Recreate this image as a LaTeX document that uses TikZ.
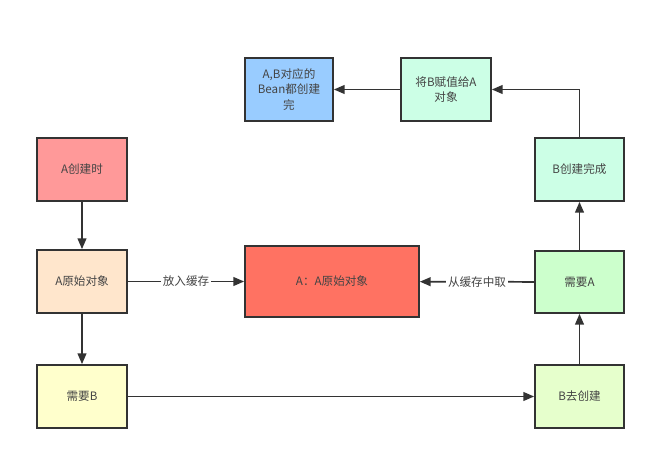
\documentclass[tikz,border=0pt]{standalone}
\usepackage{fontspec}
\setmainfont{Noto Sans CJK SC}
\usetikzlibrary{arrows.meta}
\definecolor{cblue}{RGB}{153,204,255}
\definecolor{cmint}{RGB}{204,255,230}
\definecolor{csalmon}{RGB}{255,153,153}
\definecolor{cpeach}{RGB}{255,230,204}
\definecolor{ccoral}{RGB}{255,114,98}
\definecolor{cgreen}{RGB}{204,255,204}
\definecolor{cyellow}{RGB}{255,255,204}
\definecolor{clime}{RGB}{230,255,204}
\definecolor{cline}{RGB}{51,51,51}
\definecolor{ctext}{RGB}{68,68,68}
\tikzset{
  box/.style={draw=cline, line width=1.3pt, minimum width=67.5pt, minimum height=47.25pt,
    inner sep=2pt, align=center, text=ctext, font=\fontsize{8.7}{11.5}\selectfont},
  conn/.style={draw=cline, line width=1.3pt, -{Triangle[length=8pt,width=6.5pt]}},
  lbl/.style={fill=white, text=ctext, inner sep=1.5pt, font=\fontsize{8.7}{11}\selectfont}
}
\begin{document}
\begin{tikzpicture}[x=0.75pt,y=-0.75pt]
\useasboundingbox[fill=white] (0,0) rectangle (672,456);
\node[box, fill=cblue, minimum width=66pt] (ab) at (289,89.5) {A,B对应的\\Bean都创建\\完};
\node[box, fill=cmint] (jb) at (446,89.5) {将B赋值给A\\对象};
\node[box, fill=csalmon] (ac) at (82,169.5) {A创建时};
\node[box, fill=cpeach] (ay) at (82,281.5) {A原始对象};
\node[box, fill=ccoral, minimum width=130.5pt, minimum height=53.25pt] (big) at (332,281.5) {A：A原始对象};
\node[box, fill=cgreen, minimum width=66.75pt, minimum height=46.5pt] (na) at (579.5,282) {需要A};
\node[box, fill=cyellow] (nb) at (82,396.5) {需要B};
\node[box, fill=clime, minimum width=66.75pt] (bq) at (579.5,396.5) {B去创建};
\node[box, fill=cmint, minimum width=66.75pt] (bw) at (579.5,169.5) {B创建完成};
\draw[conn] (ac) -- (ay);
\draw[conn] (ay) -- (nb);
\draw[conn] (ay) -- node[lbl] {放入缓存} (big);
\draw[conn] (nb) -- (bq);
\draw[conn] (bq) -- (na);
\draw[conn] (na) -- node[lbl] {从缓存中取} (big);
\draw[conn] (na) -- (bw);
\draw[conn] (bw.north) |- (jb.east);
\draw[conn] (jb) -- (ab);
\end{tikzpicture}
\end{document}
